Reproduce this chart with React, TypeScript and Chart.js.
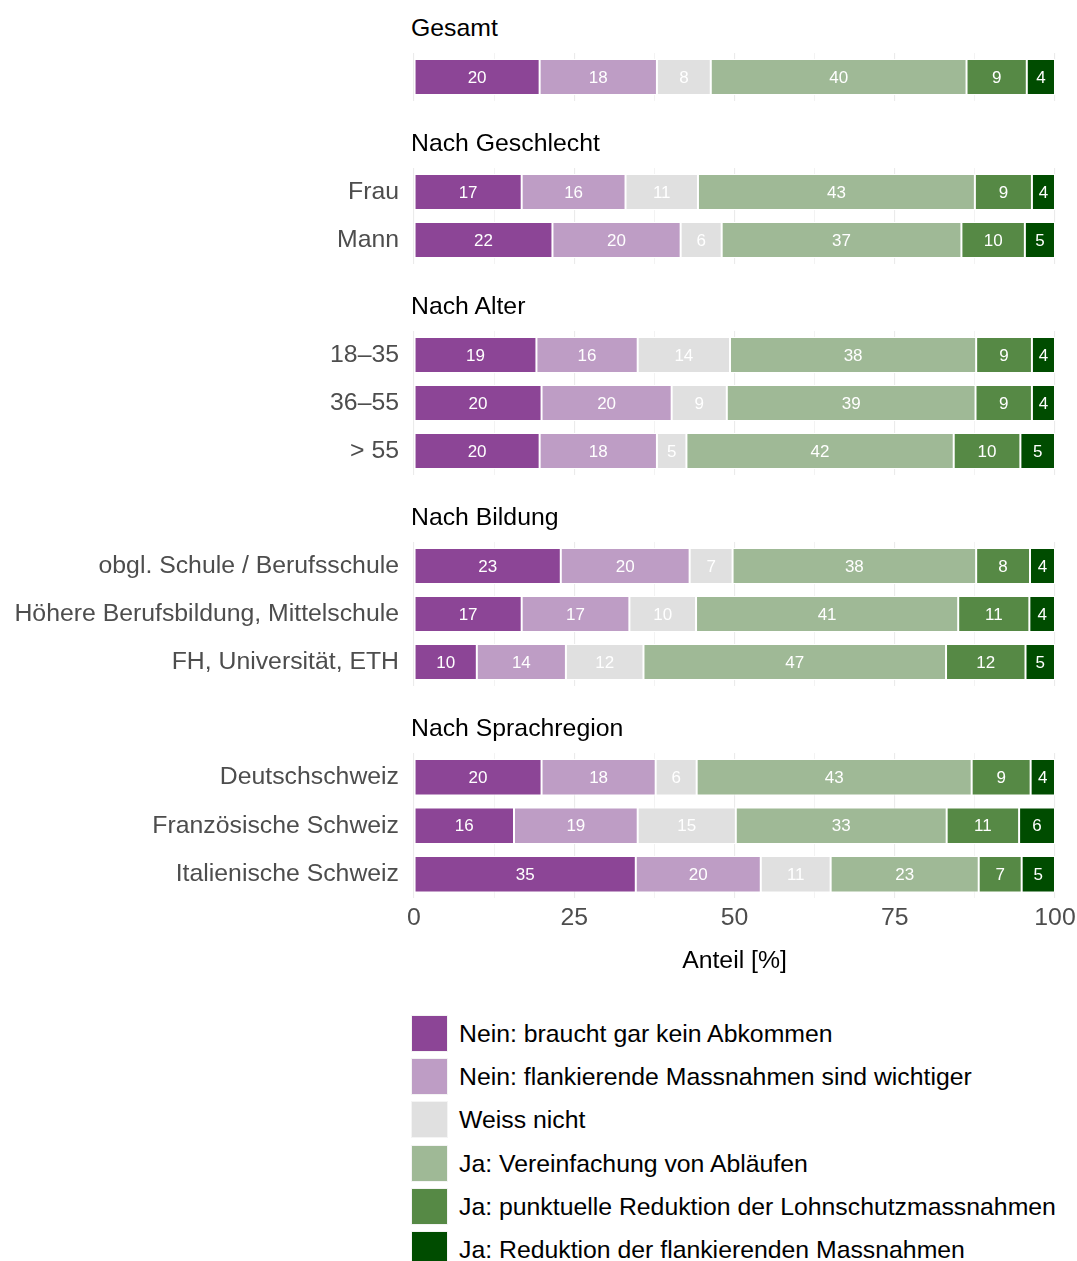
import React, { useEffect, useRef } from "react";
import { Chart, registerables } from "chart.js";

Chart.register(...registerables);

// ---------------- data ----------------
const SERIES_NAMES = [
  "Nein: braucht gar kein Abkommen",
  "Nein: flankierende Massnahmen sind wichtiger",
  "Weiss nicht",
  "Ja: Vereinfachung von Abläufen",
  "Ja: punktuelle Reduktion der Lohnschutzmassnahmen",
  "Ja: Reduktion der flankierenden Massnahmen",
];
const SERIES_COLORS = ["#8c4596", "#be9dc5", "#e0e0e0", "#9fb996", "#568945", "#004c00"];

const GROUP_TITLES = ["Gesamt", "Nach Geschlecht", "Nach Alter", "Nach Bildung", "Nach Sprachregion"];

const GESAMT_LABELS = [""];
const GESAMT_VALUES = [[19.6, 18.3, 8.4, 39.9, 9.4, 4.4]];

const GESCHLECHT_LABELS = ["Frau", "Mann"];
const GESCHLECHT_VALUES = [
  [16.8, 16.2, 11.3, 43.2, 8.9, 3.6],
  [21.6, 20.0, 6.4, 37.4, 9.9, 4.7],
];

const ALTER_LABELS = ["18–35", "36–55", "> 55"];
const ALTER_VALUES = [
  [19.1, 15.8, 14.4, 38.4, 8.7, 3.6],
  [19.9, 20.3, 8.6, 38.8, 8.8, 3.6],
  [19.6, 18.3, 4.6, 41.7, 10.4, 5.4],
];

const BILDUNG_LABELS = ["obgl. Schule / Berufsschule", "Höhere Berufsbildung, Mittelschule", "FH, Universität, ETH"];
const BILDUNG_VALUES = [
  [22.9, 20.1, 6.7, 38.0, 8.4, 3.9],
  [16.8, 16.8, 10.4, 40.9, 11.1, 4.0],
  [9.8, 13.9, 12.1, 47.2, 12.4, 4.6],
];

const SPRACH_LABELS = ["Deutschschweiz", "Französische Schweiz", "Italienische Schweiz"];
const SPRACH_VALUES = [
  [19.9, 17.8, 6.4, 42.9, 9.2, 3.8],
  [15.6, 19.3, 15.3, 32.9, 11.3, 5.6],
  [34.6, 19.5, 10.9, 23.1, 6.7, 5.2],
];

const X_TICK_LABELS = [0, 25, 50, 75, 100];
const AXIS_TITLE = "Anteil [%]";

// ---------------- layout ----------------
const W = 1077;
const H = 1261;
const CW = 1120; // canvas width (wider than page; clipped)
const PLOT_RIGHT = 1055;
const FONT = "'Liberation Sans', Arial, Helvetica, sans-serif";
const TEXT_SIZE = 24.8;
const ROW_H = 48;
const FIRST_PANEL_TOP = 53;
const PANEL_GAP = 67;
const Y_AXIS_WIDTH = 414;
const PAD = 34; // vertical canvas padding around the plot area
const AXIS_EXTRA = 80; // height below the last panel for ticks and title

const GROUPS = [
  { title: GROUP_TITLES[0], labels: GESAMT_LABELS, values: GESAMT_VALUES },
  { title: GROUP_TITLES[1], labels: GESCHLECHT_LABELS, values: GESCHLECHT_VALUES },
  { title: GROUP_TITLES[2], labels: ALTER_LABELS, values: ALTER_VALUES },
  { title: GROUP_TITLES[3], labels: BILDUNG_LABELS, values: BILDUNG_VALUES },
  { title: GROUP_TITLES[4], labels: SPRACH_LABELS, values: SPRACH_VALUES },
];

const valueLabelPlugin = {
  id: "valueLabels",
  afterDatasetsDraw(chart: any) {
    const ctx = chart.ctx;
    ctx.save();
    ctx.font = `17px ${FONT}`;
    ctx.fillStyle = "#ffffff";
    ctx.textAlign = "center";
    ctx.textBaseline = "middle";
    chart.data.datasets.forEach((ds: any, di: number) => {
      const meta = chart.getDatasetMeta(di);
      meta.data.forEach((el: any, i: number) => {
        const v = ds.data[i];
        const p = el.getProps(["x", "y", "base"], true);
        ctx.fillText(String(Math.round(v)), (p.x + p.base) / 2, p.y + 1);
      });
    });
    ctx.restore();
  },
};

function FacetChart({ labels, values, showAxis, top, height }: any) {
  const ref = useRef<HTMLCanvasElement | null>(null);
  useEffect(() => {
    if (!ref.current) return;
    const datasets = SERIES_NAMES.map((name, si) => ({
      label: name,
      data: values.map((row: number[]) => row[si]),
      backgroundColor: SERIES_COLORS[si],
      borderColor: "#ffffff",
      borderWidth: 1,
      borderSkipped: false,
      categoryPercentage: 1,
      barPercentage: 0.75,
    }));
    const chart = new Chart(ref.current, {
      type: "bar",
      data: { labels, datasets },
      plugins: [valueLabelPlugin],
      options: {
        indexAxis: "y",
        animation: false,
        responsive: false,
        maintainAspectRatio: false,
        events: [],
        layout: { padding: { left: 0, right: CW - PLOT_RIGHT, top: PAD, bottom: showAxis ? 0 : PAD } },
        plugins: { legend: { display: false }, tooltip: { enabled: false } },
        scales: {
          x: {
            stacked: true,
            min: 0,
            max: 100,
            grid: {
              color: "#ebebeb",
              lineWidth: (c: any) => (c.tick && c.tick.value % 25 === 0 ? 1.1 : 0.6),
              drawTicks: false,
            },
            border: { display: false },
            ticks: {
              display: showAxis,
              stepSize: 12.5,
              autoSkip: false,
              maxRotation: 0,
              padding: 5,
              color: "#4d4d4d",
              font: { family: FONT, size: TEXT_SIZE },
              callback: (v: any) => (X_TICK_LABELS.includes(Number(v)) ? String(v) : ""),
            },
            title: {
              display: showAxis,
              text: AXIS_TITLE,
              color: "#000000",
              font: { family: FONT, size: TEXT_SIZE },
              padding: { top: 8, bottom: 1 },
            },
          },
          y: {
            stacked: true,
            grid: { display: false, drawTicks: false },
            border: { display: false },
            ticks: {
              color: "#4d4d4d",
              font: { family: FONT, size: TEXT_SIZE },
              padding: 15,
            },
            afterFit: (s: any) => {
              s.width = Y_AXIS_WIDTH;
            },
          },
        },
      } as any,
    });
    return () => chart.destroy();
  }, [labels, values, showAxis]);
  return (
    <canvas
      ref={ref}
      width={CW}
      height={height}
      style={{ position: "absolute", left: 0, top, width: CW, height, display: "block" }}
    />
  );
}

export default function App() {
  let panelTop = FIRST_PANEL_TOP;
  const items: any[] = [];
  GROUPS.forEach((g, gi) => {
    const n = g.labels.length;
    const isLast = gi === GROUPS.length - 1;
    const h = PAD + n * ROW_H + (isLast ? AXIS_EXTRA : PAD);
    items.push(
      <div
        key={"t" + gi}
        style={{
          position: "absolute",
          left: 411,
          top: panelTop - 25.8 - 14.7,
          fontFamily: FONT,
          fontSize: TEXT_SIZE,
          lineHeight: "30px",
          color: "#000",
          whiteSpace: "nowrap",
        }}
      >
        {g.title}
      </div>
    );
    items.push(
      <FacetChart key={"c" + gi} labels={g.labels} values={g.values} showAxis={isLast} top={panelTop - PAD} height={h} />
    );
    panelTop += n * ROW_H + PANEL_GAP;
  });

  return (
    <div
      style={{
        position: "absolute",
        left: 0,
        top: 0,
        width: W,
        height: H,
        background: "#ffffff",
        overflow: "hidden",
      }}
    >
      {items}
      {SERIES_NAMES.map((name, i) => (
        <div key={"l" + i} style={{ position: "absolute", left: 411, top: 1015 + i * 43.2, height: 37 }}>
          <div
            style={{
              position: "absolute",
              left: 0,
              top: 0,
              width: 37,
              height: 37,
              boxSizing: "border-box",
              border: "1px solid #f4f4f4",
              background: SERIES_COLORS[i],
            }}
          />
          <div
            style={{
              position: "absolute",
              left: 48,
              top: 0,
              fontFamily: FONT,
              fontSize: TEXT_SIZE,
              lineHeight: "37px",
              color: "#000",
              whiteSpace: "nowrap",
            }}
          >
            {name}
          </div>
        </div>
      ))}
    </div>
  );
}
